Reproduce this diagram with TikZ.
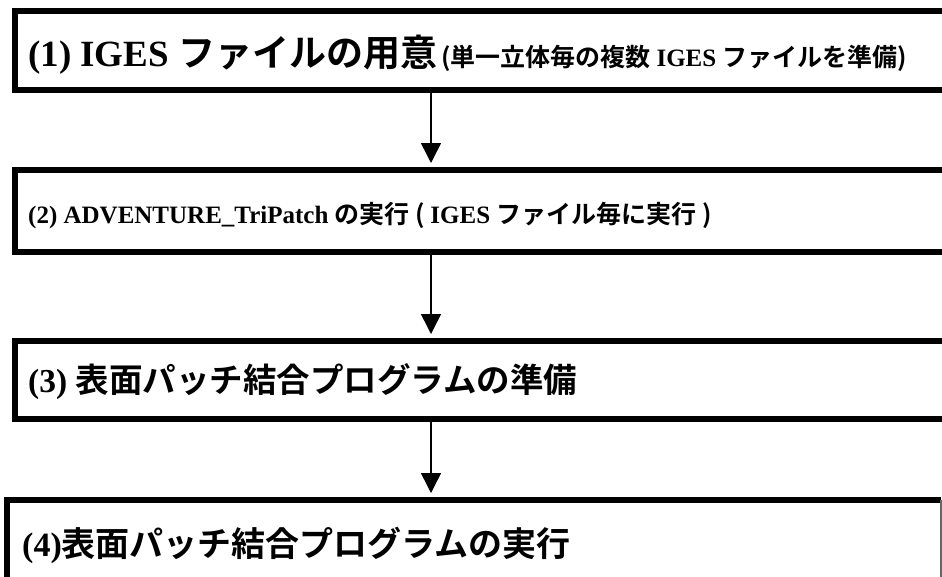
\documentclass[tikz,border=0pt]{standalone}
\usepackage{fontspec}
\setmainfont{Liberation Serif}
\newfontfamily\cjk{Noto Sans CJK JP}[BoldFont={Noto Sans CJK JP Bold}]
\usetikzlibrary{arrows.meta}
\newcommand{\lat}{\rmfamily}
\begin{document}
\begin{tikzpicture}[x=1pt,y=-1pt,
  stage/.style={draw, line width=6pt, minimum width=960pt, outer sep=0pt, inner sep=0pt, anchor=north west},
  label/.style={anchor=west, inner sep=0pt, font=\bfseries},
  flow/.style={line width=1.5pt, -{Triangle[width=20pt,length=20pt]}, shorten >=7pt}]
\clip (0,0) rectangle (942,576);
\fill[white] (0,0) rectangle (942,576);
\coordinate (ax) at (431,0);
\node[stage, minimum height=79pt] (b1) at (15,11) {};
\node[stage, minimum height=82pt] (b2) at (15,170) {};
\node[stage, minimum height=78pt] (b3) at (15,341) {};
\node[draw=none, minimum width=934pt, minimum height=100pt, outer sep=0pt, inner sep=0pt, anchor=north west] (b4) at (7,500) {};
\draw[line width=6pt] (b4.south west) -- (b4.north west) -- (b4.north east);
\draw[line width=2pt, black!60] (b4.north east) -- (b4.south east);
\node[label] (t1) at (28,55) {\fontsize{37}{37}\selectfont (1) IGES \cjk ファイルの用意\fontsize{25}{25}\selectfont\,(単一立体毎の複数 \lat IGES \cjk ファイルを準備)};
\node[label] (t2) at (28,216) {\fontsize{25}{25}\selectfont (2) ADVENTURE\_TriPatch \cjk の実行 ( \lat IGES \cjk ファイル毎に実行 )};
\node[label] (t3) at (28,382) {\fontsize{33.5}{33.5}\selectfont (3) \cjk 表面パッチ結合プログラムの準備};
\node[label] (t4) at (22,545) {\fontsize{34}{34}\selectfont (4)\cjk 表面パッチ結合プログラムの実行};
\draw[flow] (b1.south -| ax) -- (b2.north -| ax);
\draw[flow] (b2.south -| ax) -- (b3.north -| ax);
\draw[flow] (b3.south -| ax) -- (b4.north -| ax);
\end{tikzpicture}
\end{document}
